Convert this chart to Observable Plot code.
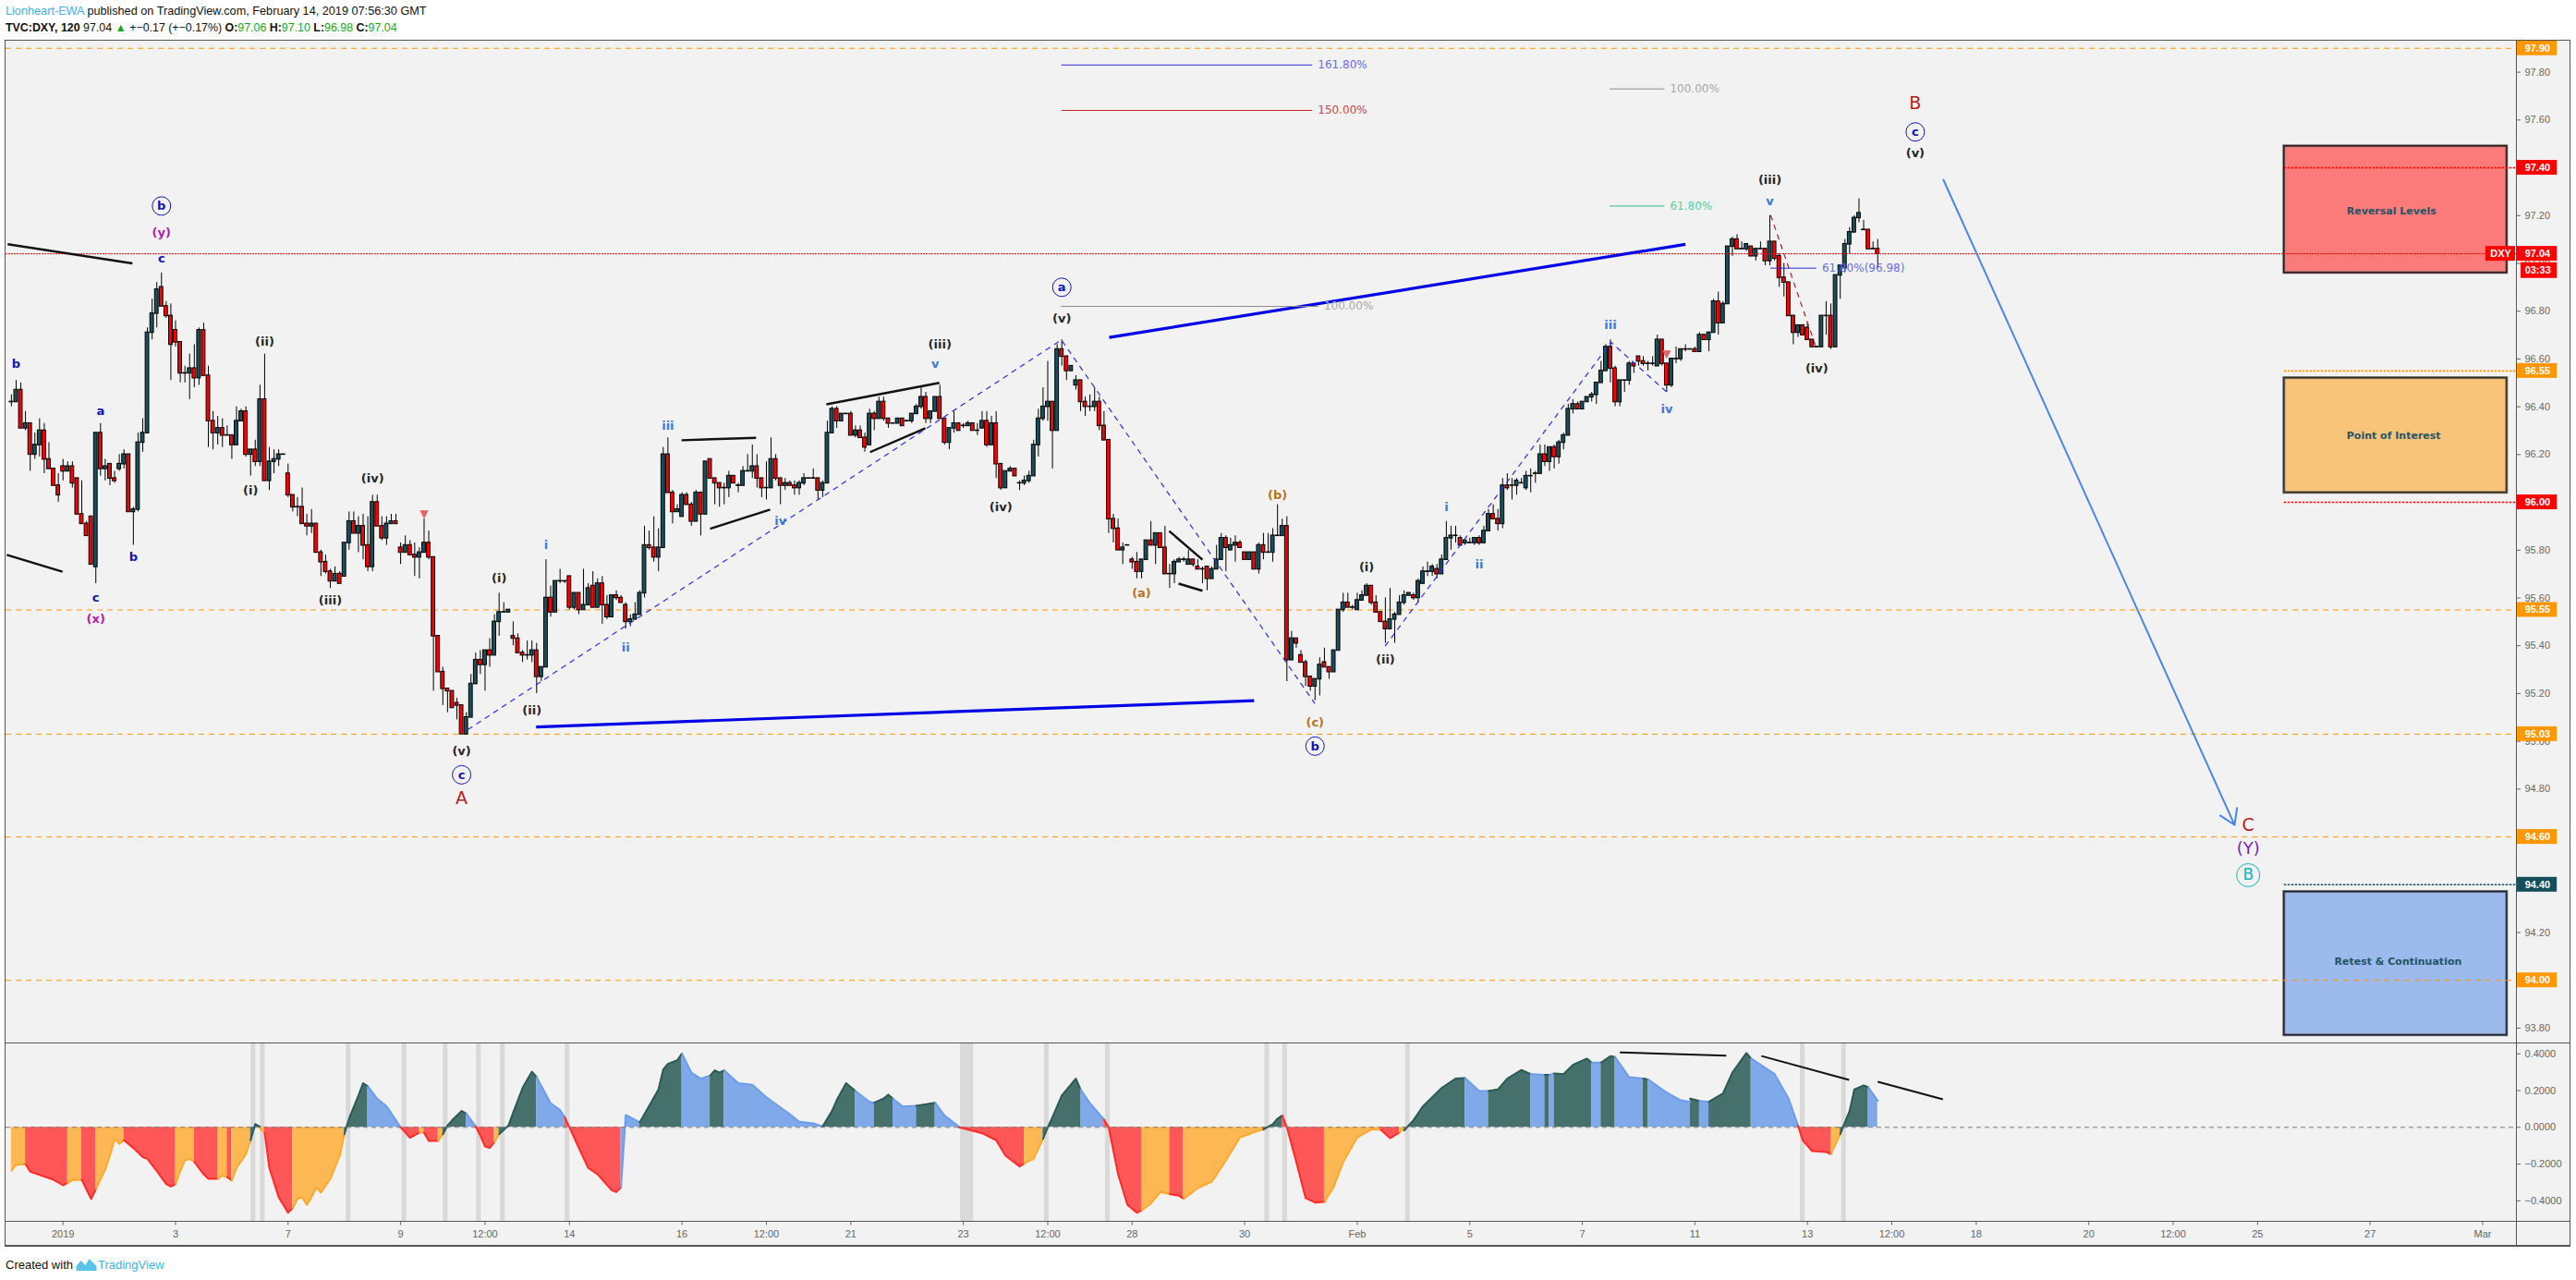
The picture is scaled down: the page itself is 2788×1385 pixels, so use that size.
<!DOCTYPE html>
<html><head><meta charset="utf-8">
<script src="https://cdn.jsdelivr.net/npm/d3@7"></script>
<script src="https://cdn.jsdelivr.net/npm/@observablehq/plot@0.6"></script>
<style>
html,body{margin:0;padding:0;background:#fff;overflow:hidden}
#page{position:relative;width:2788px;height:1385px;font-family:"Liberation Sans",sans-serif;color:#111}
.line{position:absolute;background:#555}
.t{position:absolute;left:6px;font-size:12.7px;white-space:nowrap;line-height:16px}
.lnk{color:#3bb3e4}.g{color:#18a818}
</style></head><body><div id="page"></div>
<script>
// ---------- Candles: first bar index is firstBar; 12 bars per trading day, bar 0 = the "2019" tick
const firstBar = -11;
const opens = [
96.42,96.42,96.47,96.31,96.33,96.20,96.24,96.30,96.18,96.14,
96.07,96.15,96.13,96.15,96.10,95.95,95.91,95.94,95.73,96.29,
96.14,96.16,96.10,96.14,96.16,96.20,95.96,95.97,96.25,96.29,
96.71,96.79,96.90,96.82,96.78,96.72,96.67,96.54,96.54,96.56,
96.52,96.72,96.53,96.34,96.29,96.31,96.28,96.28,96.24,96.34,
96.38,96.20,96.22,96.17,96.43,96.09,96.17,96.18,96.20,96.12,
96.03,95.98,95.98,95.91,95.90,95.91,95.79,95.75,95.71,95.67,
95.70,95.69,95.83,95.92,95.87,95.90,95.82,95.73,96.00,95.90,
95.85,95.91,95.92,95.81,95.79,95.82,95.78,95.77,95.79,95.83,
95.77,95.44,95.29,95.22,95.21,95.16,95.15,95.03,95.10,95.24,
95.34,95.32,95.38,95.36,95.50,95.54,95.54,95.44,95.43,95.37,
95.36,95.36,95.38,95.27,95.31,95.60,95.54,95.67,95.67,95.69,
95.56,95.62,95.55,95.57,95.65,95.56,95.66,95.57,95.52,95.61,
95.60,95.57,95.50,95.51,95.53,95.62,95.82,95.81,95.77,95.81,
96.20,96.04,95.96,95.94,96.03,95.99,95.92,96.04,95.95,96.18,
96.10,96.08,96.06,96.06,96.11,96.07,96.07,96.13,96.13,96.15,
96.10,96.06,96.06,96.18,96.10,96.07,96.08,96.07,96.06,96.08,
96.10,96.10,96.10,96.05,96.08,96.29,96.39,96.34,96.37,96.37,
96.28,96.30,96.27,96.24,96.37,96.35,96.42,96.35,96.33,96.33,
96.35,96.34,96.34,96.37,96.40,96.44,96.35,96.38,96.44,96.35,
96.25,96.31,96.33,96.32,96.32,96.33,96.30,96.31,96.34,96.24,
96.33,96.16,96.06,96.13,96.14,96.08,96.08,96.09,96.11,96.24,
96.35,96.40,96.42,96.30,96.64,96.61,96.55,96.49,96.51,96.42,
96.40,96.40,96.42,96.32,96.26,95.93,95.89,95.80,95.82,95.76,
95.75,95.71,95.76,95.84,95.82,95.87,95.81,95.70,95.70,95.75,
95.76,95.74,95.76,95.73,95.72,95.73,95.68,95.72,95.76,95.85,
95.80,95.82,95.83,95.79,95.76,95.79,95.72,95.82,95.79,95.79,
95.86,95.86,95.90,95.34,95.43,95.36,95.33,95.27,95.23,95.26,
95.33,95.31,95.29,95.38,95.55,95.58,95.56,95.55,95.59,95.61,
95.65,95.58,95.54,95.50,95.47,95.51,95.53,95.58,95.61,95.61,
95.60,95.66,95.71,95.71,95.72,95.70,95.76,95.85,95.86,95.85,
95.83,95.83,95.83,95.85,95.83,95.88,95.95,95.93,95.91,96.07,
96.07,96.07,96.08,96.06,96.11,96.12,96.12,96.20,96.17,96.23,
96.19,96.25,96.28,96.39,96.41,96.39,96.42,96.44,96.45,96.50,
96.55,96.65,96.56,96.42,96.51,96.51,96.58,96.61,96.59,96.58,
96.58,96.57,96.68,96.58,96.49,96.60,96.60,96.64,96.64,96.64,
96.63,96.70,96.68,96.71,96.84,96.75,96.83,97.07,97.10,97.06,
97.06,97.07,97.03,97.06,97.06,97.01,97.09,97.03,96.94,96.92,
96.78,96.71,96.74,96.73,96.68,96.65,96.65,96.78,96.78,96.65,
96.95,96.98,97.08,97.13,97.19,97.14,97.14,97.06,97.06];
const closes = [
96.42,96.47,96.31,96.33,96.20,96.24,96.30,96.18,96.14,96.07,
96.03,96.13,96.15,96.08,95.95,95.91,95.86,95.74,96.29,96.14,
96.15,96.10,96.09,96.16,96.20,95.96,95.97,96.25,96.29,96.71,
96.79,96.89,96.82,96.78,96.66,96.67,96.54,96.54,96.56,96.52,
96.72,96.53,96.34,96.29,96.31,96.28,96.28,96.24,96.34,96.38,
96.20,96.22,96.17,96.43,96.09,96.17,96.18,96.20,96.20,96.03,
95.98,95.98,95.91,95.90,95.91,95.79,95.75,95.71,95.67,95.70,
95.66,95.83,95.92,95.87,95.90,95.82,95.73,96.00,95.90,95.85,
95.91,95.92,95.91,95.79,95.82,95.78,95.77,95.79,95.83,95.77,
95.44,95.29,95.22,95.21,95.14,95.15,95.03,95.10,95.24,95.34,
95.32,95.38,95.36,95.50,95.54,95.54,95.55,95.43,95.37,95.36,
95.36,95.38,95.27,95.31,95.60,95.54,95.67,95.67,95.67,95.56,
95.62,95.55,95.57,95.64,95.56,95.66,95.57,95.52,95.61,95.60,
95.58,95.50,95.51,95.53,95.62,95.82,95.81,95.77,95.81,96.20,
96.04,95.96,95.97,96.03,95.99,95.92,96.04,95.95,96.17,96.10,
96.08,96.06,96.06,96.11,96.08,96.07,96.13,96.13,96.15,96.10,
96.06,96.06,96.18,96.10,96.07,96.08,96.07,96.06,96.08,96.10,
96.10,96.10,96.05,96.08,96.29,96.39,96.34,96.37,96.37,96.28,
96.30,96.27,96.23,96.37,96.35,96.42,96.35,96.33,96.33,96.35,
96.32,96.34,96.37,96.40,96.44,96.35,96.38,96.44,96.35,96.25,
96.31,96.33,96.30,96.32,96.33,96.30,96.30,96.34,96.24,96.33,
96.16,96.06,96.13,96.14,96.11,96.08,96.09,96.11,96.24,96.35,
96.40,96.42,96.30,96.64,96.61,96.55,96.57,96.51,96.42,96.40,
96.40,96.42,96.32,96.26,95.93,95.89,95.80,95.81,95.82,95.75,
95.71,95.76,95.84,95.82,95.87,95.81,95.70,95.70,95.75,95.76,
95.76,95.76,95.74,95.72,95.72,95.68,95.72,95.76,95.85,95.81,
95.82,95.83,95.81,95.76,95.79,95.72,95.82,95.79,95.79,95.86,
95.86,95.90,95.34,95.43,95.41,95.33,95.27,95.23,95.26,95.32,
95.31,95.29,95.38,95.55,95.58,95.56,95.56,95.59,95.61,95.65,
95.58,95.54,95.50,95.47,95.51,95.53,95.58,95.61,95.62,95.60,
95.67,95.71,95.71,95.73,95.70,95.76,95.85,95.86,95.86,95.82,
95.84,95.83,95.85,95.83,95.88,95.95,95.93,95.91,96.07,96.06,
96.07,96.09,96.08,96.11,96.11,96.12,96.20,96.17,96.23,96.19,
96.25,96.28,96.39,96.41,96.39,96.42,96.44,96.45,96.50,96.55,
96.65,96.56,96.42,96.51,96.51,96.58,96.57,96.59,96.58,96.58,
96.58,96.68,96.58,96.49,96.60,96.60,96.64,96.64,96.64,96.63,
96.70,96.68,96.71,96.84,96.75,96.83,97.07,97.10,97.06,97.06,
97.08,97.03,97.06,97.06,97.01,97.09,97.02,96.94,96.92,96.78,
96.71,96.74,96.70,96.68,96.65,96.65,96.78,96.78,96.65,96.95,
96.99,97.08,97.13,97.19,97.21,97.14,97.06,97.06,97.04];
const highs = [
96.45,96.51,96.50,96.38,96.33,96.29,96.35,96.33,96.25,96.14,
96.12,96.18,96.17,96.17,96.10,96.09,95.92,95.94,96.29,96.33,
96.18,96.16,96.13,96.20,96.22,96.20,95.98,96.29,96.35,96.73,
96.85,96.92,96.96,96.84,96.83,96.76,96.67,96.57,96.62,96.66,
96.73,96.75,96.57,96.38,96.36,96.35,96.32,96.28,96.40,96.39,
96.40,96.22,96.26,96.49,96.62,96.23,96.22,96.22,96.20,96.16,
96.03,96.02,96.06,95.95,95.97,95.91,95.80,95.78,95.72,95.73,
95.71,95.83,95.96,95.96,95.94,95.95,95.94,96.03,96.03,95.94,
95.94,95.95,95.95,95.83,95.86,95.84,95.83,95.81,95.93,95.88,
95.77,95.44,95.31,95.22,95.21,95.18,95.15,95.12,95.28,95.37,
95.38,95.38,95.43,95.53,95.62,95.58,95.55,95.50,95.45,95.38,
95.42,95.42,95.41,95.31,95.76,95.65,95.67,95.72,95.67,95.69,
95.62,95.62,95.72,95.66,95.71,95.68,95.69,95.61,95.61,95.63,
95.61,95.58,95.53,95.58,95.63,95.90,95.88,95.94,95.89,96.23,
96.27,96.05,95.99,96.04,96.04,96.00,96.05,96.04,96.17,96.18,
96.10,96.08,96.08,96.13,96.11,96.08,96.15,96.20,96.24,96.20,
96.10,96.17,96.27,96.20,96.10,96.10,96.09,96.09,96.09,96.12,
96.10,96.14,96.10,96.09,96.34,96.40,96.40,96.37,96.37,96.38,
96.32,96.32,96.29,96.39,96.38,96.44,96.44,96.35,96.33,96.35,
96.35,96.34,96.37,96.41,96.48,96.46,96.38,96.44,96.49,96.35,
96.31,96.38,96.33,96.33,96.34,96.33,96.33,96.38,96.38,96.36,
96.38,96.16,96.13,96.15,96.14,96.09,96.11,96.13,96.26,96.39,
96.48,96.59,96.42,96.66,96.68,96.61,96.57,96.53,96.51,96.44,
96.45,96.48,96.44,96.38,96.26,95.95,95.93,95.83,95.82,95.77,
95.79,95.76,95.84,95.92,95.87,95.87,95.90,95.74,95.76,95.77,
95.77,95.80,95.76,95.76,95.73,95.73,95.73,95.82,95.87,95.86,
95.85,95.86,95.84,95.79,95.79,95.79,95.83,95.87,95.87,95.89,
95.99,95.93,95.94,95.46,95.43,95.38,95.34,95.27,95.26,95.35,
95.39,95.31,95.38,95.55,95.62,95.62,95.57,95.62,95.63,95.66,
95.65,95.61,95.54,95.60,95.64,95.54,95.61,95.63,95.62,95.62,
95.68,95.73,95.75,95.74,95.74,95.78,95.92,95.90,95.90,95.86,
95.84,95.85,95.85,95.86,95.90,95.97,95.99,95.97,96.10,96.12,
96.10,96.10,96.10,96.13,96.14,96.13,96.24,96.24,96.23,96.24,
96.26,96.29,96.41,96.43,96.42,96.42,96.44,96.46,96.50,96.59,
96.66,96.68,96.57,96.51,96.51,96.59,96.58,96.61,96.61,96.59,
96.61,96.70,96.68,96.58,96.60,96.65,96.64,96.66,96.64,96.65,
96.71,96.70,96.71,96.85,96.88,96.84,97.07,97.11,97.12,97.09,
97.08,97.07,97.06,97.09,97.06,97.20,97.09,97.04,97.00,96.92,
96.78,96.74,96.74,96.75,96.68,96.65,96.78,96.84,96.83,96.95,
96.99,97.10,97.15,97.20,97.27,97.18,97.14,97.09,97.10];
const lows = [
96.40,96.42,96.31,96.30,96.13,96.18,96.19,96.12,96.14,96.07,
96.00,96.09,96.13,96.06,95.95,95.91,95.86,95.74,95.66,96.11,
96.09,96.07,96.08,96.13,96.14,95.96,95.82,95.96,96.21,96.29,
96.68,96.73,96.82,96.77,96.51,96.65,96.50,96.50,96.43,96.48,
96.49,96.53,96.23,96.22,96.24,96.23,96.28,96.18,96.24,96.34,
96.19,96.11,96.15,96.15,96.09,96.05,96.12,96.15,96.20,96.02,
95.96,95.94,95.91,95.86,95.87,95.79,95.69,95.70,95.64,95.67,
95.66,95.69,95.80,95.87,95.79,95.76,95.71,95.71,95.90,95.84,
95.82,95.91,95.91,95.74,95.79,95.78,95.69,95.68,95.79,95.76,
95.21,95.29,95.15,95.12,95.14,95.09,95.03,95.03,95.10,95.24,
95.28,95.21,95.31,95.36,95.44,95.54,95.54,95.40,95.37,95.33,
95.34,95.33,95.20,95.25,95.31,95.52,95.54,95.66,95.66,95.55,
95.55,95.53,95.55,95.57,95.56,95.56,95.49,95.51,95.52,95.59,
95.58,95.47,95.48,95.51,95.53,95.60,95.80,95.75,95.71,95.81,
96.04,95.91,95.96,95.94,95.99,95.90,95.92,95.86,95.95,96.10,
95.99,95.98,95.99,96.02,96.08,96.04,96.07,96.13,96.10,96.06,
96.02,96.01,96.06,96.09,95.99,96.05,96.07,96.03,96.03,96.07,
96.10,96.10,96.01,96.02,96.08,96.29,96.31,96.34,96.37,96.28,
96.27,96.27,96.21,96.24,96.30,96.35,96.34,96.31,96.33,96.33,
96.32,96.34,96.33,96.37,96.39,96.33,96.33,96.38,96.35,96.24,
96.22,96.29,96.30,96.31,96.32,96.30,96.28,96.31,96.23,96.24,
96.10,96.05,96.06,96.13,96.11,96.05,96.07,96.08,96.11,96.19,
96.34,96.34,96.14,96.30,96.57,96.51,96.55,96.47,96.38,96.36,
96.38,96.38,96.30,96.26,95.87,95.83,95.80,95.74,95.82,95.72,
95.68,95.68,95.76,95.82,95.74,95.81,95.70,95.64,95.66,95.75,
95.75,95.74,95.73,95.72,95.66,95.63,95.68,95.72,95.76,95.71,
95.80,95.75,95.81,95.76,95.76,95.72,95.70,95.76,95.79,95.75,
95.86,95.86,95.25,95.34,95.39,95.33,95.23,95.21,95.17,95.19,
95.31,95.26,95.29,95.38,95.54,95.56,95.55,95.55,95.59,95.61,
95.57,95.54,95.50,95.41,95.47,95.41,95.53,95.57,95.61,95.59,
95.58,95.66,95.69,95.69,95.68,95.70,95.76,95.80,95.83,95.82,
95.82,95.83,95.82,95.82,95.83,95.88,95.93,95.88,95.89,96.05,
96.01,96.03,96.08,96.05,96.04,96.08,96.12,96.15,96.13,96.14,
96.16,96.22,96.28,96.37,96.39,96.39,96.42,96.42,96.41,96.50,
96.55,96.50,96.40,96.40,96.46,96.49,96.54,96.57,96.57,96.55,
96.57,96.57,96.57,96.46,96.48,96.58,96.59,96.63,96.64,96.63,
96.63,96.68,96.63,96.71,96.70,96.75,96.83,97.03,97.06,97.06,
97.05,97.03,97.01,97.06,96.99,96.99,97.01,96.90,96.86,96.78,
96.66,96.69,96.70,96.68,96.65,96.65,96.65,96.70,96.64,96.65,
96.85,96.96,97.04,97.13,97.17,97.14,97.06,97.06,96.98];

// ---------- Time axis and price axis
const timeTickBars = [0,24,48,72,90,108,132,150,168,192,210,228,252,276,300,324,348,372,390,408,432,450,468,492,516];
const timeTickText = ["2019","3","7","9","12:00","14","16","12:00","21","23","12:00","28","30","Feb","5","7","11","13","12:00","18","20","12:00","25","27","Mar"];
const priceTicks = [97.8,97.6,97.4,97.2,97,96.8,96.6,96.4,96.2,96,95.8,95.6,95.4,95.2,95,94.8,94.6,94.4,94.2,94,93.8];
const macdTicks = [0.4,0.2,0,-0.2,-0.4];

// ---------- Horizontal levels
const fullLevels = [97.90,95.55,95.03,94.60,94.00];
const lastPrice = 97.04;
const shortLevelPrices = [97.40,96.55,96.00,94.40];
const shortLevelKinds = ["red","orange","red","teal"];
const tagPrices = [97.90,97.40,97.04,96.55,96.00,95.55,95.03,94.60,94.40,94.00];
const tagKinds = ["orange","red","red","orange","red","orange","orange","orange","teal","orange"];

// ---------- Zones
const zoneNames = ["Reversal Levels","Point of Interest","Retest & Continuation"];
const zoneTop = [97.49,96.52,94.37];
const zoneBottom = [96.96,96.04,93.77];
const zoneLeftBar = 473.7, zoneRightBar = 521.2;
const zoneLabelBar = [487,487,484.4];
const zoneLabelPrice = [97.22,96.28,94.08];
const zoneKinds = ["red","orange","blue"];

// ---------- Drawn lines [bar, price, bar, price]
const blackTrends = [[-11.8,97.08,14.8,97.00],[-12,95.78,-0.1,95.71],[131.9,96.26,147.8,96.27],[138,95.89,150.8,95.97],
  [162.8,96.41,186.9,96.50],[172.1,96.21,183.9,96.31],[235.9,95.88,243,95.76],[237.9,95.66,243,95.63]];
const blueTrends = [[100.9,95.06,254,95.17],[223.1,96.69,346,97.08]];
const zigzagA = {bars:[86.4,212.9,266.9],prices:[95.05,96.68,95.16]};
const zigzagB = {bars:[282,330.1,342.1],prices:[95.40,96.67,96.46]};
const zigzagC = {bars:[364.2,374],prices:[97.20,96.64]};
const forecastArrow = [401,97.35,463.1,94.65];

// ---------- Fibonacci ratio labels
const fibText = ["161.80%","150.00%","100.00%","61.80%","100.00%","61.80%(96.98)"];
const fibPrice = [97.83,97.64,97.73,97.24,96.82,96.98];
const fibBar1 = [213,213,329.9,329.9,212.9,364.2];
const fibBar2 = [266.5,266.5,341.6,341.6,267.8,374];
const fibKind = ["blue","red","gray","green","gray","blue"];

// ---------- Wave labels
const blackWaves = {text:["(ii)","(i)","(iv)","(iii)","(v)","(i)","(ii)","(iv)","(iii)","(v)","(i)","(ii)","(iii)","(v)","(iv)"],
  bar:[43,40,66,57,85,93,100,200,187,213,278,282,364,395,374],
  price:[96.67,96.05,96.10,95.59,94.96,95.68,95.13,95.98,96.66,96.77,95.73,95.34,97.35,97.46,96.56]};
const navyWaves = {text:["b","a","c","b","c"],bar:[-10,8,7,15,21],price:[96.58,96.38,95.60,95.77,97.02]};
const blueWaves = {text:["i","ii","iii","iv","v","i","ii","iii","iv","v"],
  bar:[103,120,129,153,186,295,302,330,342,364],price:[95.82,95.39,96.32,95.92,96.58,95.98,95.74,96.74,96.39,97.26]};
const magentaWaves = {text:["(x)","(y)"],bar:[7,21],price:[95.51,97.13]};
const amberWaves = {text:["(b)","(a)","(c)"],bar:[259,230,267],price:[96.03,95.62,95.08]};
const circledNavy = {text:["b","c","a","b","c"],bar:[21,85,213,267,395],price:[97.24,94.86,96.90,94.98,97.55]};
const majorRed = {text:["A","B","C"],bar:[85,395,466],price:[94.76,97.67,94.65]};
const majorY = {text:"(Y)",bar:466,price:94.55};
const majorCircled = {text:"B",bar:466,price:94.44};
const pivotMarks = {bar:[77,342],price:[95.95,96.62]};

// ---------- Indicator: segments of the oscillator line; kinds T rising above zero, B falling above, R falling below, O rising below
const macdKind = ["O","R","O","R","O","R","O","R","O","R","O","T","O","R","O","T","B","R","O","R","O","T","B","R","O","T","B","R","B","T","B","T","B","T",
  "B","T","B","T","B","R","O","T","B","R","O","R","O","T","R","O","R","O","T","B","T","B","T","B","T","B","T","B","T","B","T","B","T","B","R","O","T","B"];
const macdBars = [
[-11,-10,-8],[-8,-7,-4,-2,0,1],[1,2,4],[4,5,6,7],[7,9,10,11,12,13],[13,15,17,18,20,22,23,24],[24,25,26,27,28],[28,30,31,33],[33,34,35],[35,36],
[36,37,39,40],[40,41,42],[42,43],[43,44,46,48,49],[49,50,51,52,53,54,55,57,59,60],[60,61,63,64,65],[65,67,69,71,72],[72,74,76],[76,77],[77,78,80],
[80,81],[81,82,83,85,86],[86,88],[88,89,90,91,92],[92,93],[93,95,96,98,100,101],[101,104,106,107],[107,108,110,112,114,117,118,119],[119,120,123],
[123,124,127,128,129,131,132],[132,134,136,138],[138,139,140,141],[141,144,147,150,155,157,160,162],[162,164,165,167,169],
[169,172,173],[173,175,176,177],[177,179,182],[182,186],[186,188,191],[191,193,196,199,201,204,205],[205,207,209],[209,210,211,213,216,217],[217,219,222],
[222,223,225,227,229,230],[230,232,234,236],[236,238,239],[239,242,245,248,251,253,255,256],[256,258,259,260],[260,261,263,265,267,269],[269,271,273,276,279,281],
[281,283,285],[285,286],[286,288,290,294,297,299],[299,302,304],[304,306,308,311,313],[313,316],[316,317],[317,318],[318,320,322,325,326],[326,328],[328,330,331],
[331,334,337],[337,338],[338,342,345,347],[347,349],[349,351],[351,354,356,359,360],[360,365,368,370],[370,371,373,376,377],[377,379],[379,381,382,384,385],[385,387]];
const macdVals = [
[-.235,-.204,-.201],[-.201,-.241,-.268,-.285,-.315,-.302],[-.302,-.288,-.285],[-.285,-.338,-.389,-.335],[-.335,-.229,-.154,-.062,-.090,-.070],
[-.070,-.112,-.162,-.171,-.238,-.308,-.322,-.308],[-.308,-.238,-.179,-.171,-.188],[-.188,-.255,-.280,-.280],[-.280,-.263,-.271],[-.271,-.288],
[-.288,-.221,-.146,-.070],[-.070,.018,.003],[-.005,-.03],[-.028,-.221,-.380,-.464,-.439],[-.439,-.389,-.380,-.422,-.380,-.327,-.355,-.280,-.154,-.037],
[-.037,.047,.173,.240,.223],[.223,.156,.114,.039,0],[0,-.057,-.028],[-.028,-.028],[-.028,-.074,-.074],
[-.074,-.037],[-.037,.010,.039,.089,.075],[.075,.005],[.005,-.045,-.104,-.112,-.079],[-.079,-.037],[-.037,.010,.080,.214,.303,.273],[.273,.131,.094,.055],
[.055,0,-.112,-.221,-.255,-.342,-.352,-.325],[-.325,.067,.027],
[.027,.072,.206,.315,.345,.365,.402],[.402,.298,.265,.281],[.281,.310,.298,.310],[.310,.240,.231,.164,.072,.030,.022,.005],[.005,.089,.147,.240,.198],
[.198,.139,.134],[.134,.156,.178,.156],[.156,.114,.117],[.117,.134],[.134,.064,.005],[0,-.012,-.032,-.070,-.154,-.213,-.196],[-.196,-.171,-.062],[-.062,0,.055,.173,.265,.206],[.206,.131,.042],
[.042,0,-.255,-.422,-.464,-.452],[-.452,-.414,-.352,-.363],[-.363,-.372,-.389],[-.389,-.330,-.296,-.179,-.054,-.037,-.017,-.012],[-.012,.017,.047,.064],[.064,0,-.188,-.385,-.409,-.405],[-.405,-.322,-.188,-.054,-.012,-.012],
[-.012,-.059,-.028],[-.028,0],[-.017,.039,.114,.214,.265,.268],[.268,.198,.198],[.198,.206,.265,.312,.290],[.290,.285],[.285,.285],[.285,.293],[.293,.290,.340,.374,.352],[.352,.352],[.352,.387,.382],
[.382,.273,.265],[.265,.261],[.261,.189,.147,.139],[.156,.144],[.144,.139],[.139,.184,.298,.404,.374],[.374,.290,.156,.010],[.010,-.070,-.129,-.134,-.146],[-.146,-.037],[-.037,.089,.206,.228,.218],[.218,.144]];
const macdBands = [40.6,42.6,60.9,72.8,81.6,88.7,93.8,107.6,191.9,192.8,193.7,209.8,222.8,256.8,260.6,286.8,371,379.8];
const macdTrends = [[332,.408,354.7,.390],[362.2,.388,380.9,.258],[387,.248,400.9,.152]];

// ---------- Build
const FONT = "DejaVu Sans";
const barDomain = [-12.158, 523.2];
const page = document.getElementById("page");
const PANEL = "#f2f2f2";
const bars = opens.map((o,i)=>({bar:firstBar+i,o,c:closes[i],h:highs[i],l:lows[i]}));
const rows = t => t.text.map((s,i)=>({text:s,bar:t.bar[i],price:t.price[i]}));
const tc = {red:"#ff0000",orange:"#ff9800",teal:"#14505c",blue:"#3c78d8"};
const links = a => a.map(r=>({x1:r[0],y1:r[1],x2:r[2],y2:r[3]}));
const zig = z => z.bars.map((b,i)=>({bar:b,price:z.prices[i]}));
const fibRows = fibText.map((t,i)=>({t,price:fibPrice[i],a:fibBar1[i],b:fibBar2[i],k:fibKind[i]}));
const fibLine = {blue:"#2a2ad8",red:"#c62828",gray:"#8a8a8a",green:"#2fbf8f"};
const fibFill = {blue:"#6a6ae8",red:"#c94a4a",gray:"#a8a8a8",green:"#52cfa3"};
const waveText = (t,fill,extra={}) => Plot.text(rows(t),{x:"bar",y:"price",text:"text",fill,fontFamily:FONT,fontSize:13,fontWeight:"bold",...extra});
const circleRows = rows(circledNavy);
const shortLv = shortLevelPrices.map((p,i)=>({p,k:shortLevelKinds[i]}));
const tags = tagPrices.map((p,i)=>({p,k:tagKinds[i]}));
const zones = zoneNames.map((n,i)=>({n,t:zoneTop[i],b:zoneBottom[i],lb:zoneLabelBar[i],lp:zoneLabelPrice[i],k:zoneKinds[i]}));
const zoneFill = {red:"#fb7a7a",orange:"#f8c479",blue:"#9dbaec"};
const zoneInk = {red:"#3a0d0d",orange:"#3d2d12",blue:"#14213d"};

const pricePlot = Plot.plot({
  width:2775,height:1084,marginTop:0,marginBottom:0,marginLeft:0,marginRight:58,
  style:{background:PANEL,fontFamily:"Liberation Sans",fontSize:"11px",overflow:"visible"},
  x:{domain:barDomain,axis:null},
  y:{domain:[93.738,97.93],axis:null},
  marks:[
    Plot.axisY({anchor:"right",ticks:priceTicks,tickFormat:d=>d.toFixed(2),tickSize:4,tickPadding:5,label:null,color:"#666",fontSize:11}),
    Plot.rect(zones,{x1:zoneLeftBar,x2:zoneRightBar,y1:"b",y2:"t",fill:d=>zoneFill[d.k],stroke:"#777",strokeWidth:3}),
    Plot.rect(zones,{x1:zoneLeftBar,x2:zoneRightBar,y1:"b",y2:"t",stroke:d=>zoneInk[d.k],strokeWidth:1.4}),
    Plot.text(zones,{x:"lb",y:"lp",text:"n",textAnchor:"start",fill:"#1f5566",fontFamily:FONT,fontWeight:"bold",fontSize:11}),
    Plot.ruleY(fullLevels,{stroke:"#ff9800",strokeWidth:1,strokeDasharray:"6 5"}),
    Plot.ruleY(shortLv,{y:"p",x1:zoneLeftBar,x2:barDomain[1],stroke:d=>tc[d.k],strokeWidth:1.6,strokeDasharray:"2.5 1.5"}),
    Plot.ruleX(bars,{x:"bar",y1:"l",y2:"h",stroke:"#000",strokeWidth:1}),
    Plot.rect(bars,{x1:d=>d.bar-0.38,x2:d=>d.bar+0.38,y1:"o",y2:"c",insetTop:-0.3,insetBottom:-0.3,
      fill:d=>d.c>=d.o?"#1a4f5c":"#ff0000",stroke:"#000",strokeWidth:1}),
    Plot.ruleY([lastPrice],{stroke:"#ff0000",strokeWidth:1,strokeDasharray:"2 1"}),
    Plot.link(links(blueTrends),{x1:"x1",y1:"y1",x2:"x2",y2:"y2",stroke:"#0000e6",strokeWidth:3.2}),
    Plot.link(links(blackTrends),{x1:"x1",y1:"y1",x2:"x2",y2:"y2",stroke:"#111",strokeWidth:2.4}),
    Plot.line(zig(zigzagA),{x:"bar",y:"price",stroke:"#2a2af5",strokeWidth:1.2,strokeDasharray:"5 6"}),
    Plot.line(zig(zigzagB),{x:"bar",y:"price",stroke:"#2a2af5",strokeWidth:1.2,strokeDasharray:"5 6"}),
    Plot.line(zig(zigzagC),{x:"bar",y:"price",stroke:"#a32035",strokeWidth:1.2,strokeDasharray:"5 6"}),
    Plot.arrow([forecastArrow],{x1:d=>d[0],y1:d=>d[1],x2:d=>d[2],y2:d=>d[3],stroke:"#4a86e8",strokeWidth:2,headLength:14,headAngle:65,inset:0}),
    Plot.ruleY(fibRows,{y:"price",x1:"a",x2:"b",stroke:d=>fibLine[d.k],strokeWidth:1}),
    Plot.text(fibRows,{x:d=>d.b+1.1,y:"price",text:"t",textAnchor:"start",fill:d=>fibFill[d.k],fontFamily:FONT,fontSize:12}),
    waveText(blackWaves,"#262626"),
    waveText(navyWaves,"#1414b4"),
    waveText(blueWaves,"#3c78d8"),
    waveText(magentaWaves,"#b31ab3"),
    waveText(amberWaves,"#b8741a"),
    Plot.text(pivotMarks.bar.map((b,i)=>({b,p:pivotMarks.price[i]})),{x:"b",y:"p",text:()=>"▼",fill:"#e06666",fontSize:12,fontFamily:FONT}),
    Plot.dot(circleRows,{x:"bar",y:"price",r:10,stroke:"#1414b4",strokeWidth:1}),
    Plot.text(circleRows,{x:"bar",y:"price",text:"text",fill:"#1414b4",fontFamily:FONT,fontSize:13,fontWeight:"bold"}),
    Plot.text(rows(majorRed),{x:"bar",y:"price",text:"text",fill:"#b71c1c",fontFamily:FONT,fontSize:19}),
    Plot.text([majorY],{x:"bar",y:"price",text:"text",fill:"#7b1fb5",fontFamily:FONT,fontSize:18}),
    Plot.dot([majorCircled],{x:"bar",y:"price",r:12.5,stroke:"#17b3b3",strokeWidth:1}),
    Plot.text([majorCircled],{x:"bar",y:"price",text:"text",fill:"#17b3b3",fontFamily:FONT,fontSize:17}),
    Plot.rect(tags,{x1:barDomain[1],x2:barDomain[1]+8.7,y1:"p",y2:"p",insetTop:-8,insetBottom:-8,fill:d=>tc[d.k]}),
    Plot.text(tags,{x:525,y:"p",text:d=>d.p.toFixed(2),textAnchor:"start",fill:"#fff",fontWeight:"bold",fontFamily:"Liberation Sans",fontSize:11}),
    Plot.rect([lastPrice],{x1:516.7,x2:523,y1:d=>d,y2:d=>d,insetTop:-8,insetBottom:-8,fill:"#ff0000"}),
    Plot.text([lastPrice],{x:519.85,y:d=>d,text:()=>"DXY",fill:"#fff",fontWeight:"bold",fontFamily:"Liberation Sans",fontSize:11}),
    Plot.rect([96.97],{x1:524.2,x2:531.9,y1:d=>d,y2:d=>d,insetTop:-8.5,insetBottom:-8.5,fill:"#ff0000"}),
    Plot.text([96.97],{x:525,y:d=>d,text:()=>"03:33",textAnchor:"start",fill:"#fff",fontWeight:"bold",fontFamily:"Liberation Sans",fontSize:11})
  ]
});

const macdRows = macdKind.flatMap((k,s)=>macdBars[s].map((b,i)=>({s,k,bar:b,v:macdVals[s][i]})));
const macdFill = {T:"#46706c",B:"#80a9e9",R:"#ff5757",O:"#fdb753"};
const macdStroke = {T:"#2b5a57",B:"#6d9cec",R:"#ff2a2a",O:"#ffa726"};

const macdPlot = Plot.plot({
  width:2775,height:219,marginTop:0,marginBottom:26.5,marginLeft:0,marginRight:58,
  style:{background:PANEL,fontFamily:"Liberation Sans",fontSize:"11px",overflow:"visible"},
  x:{domain:barDomain,axis:null},
  y:{domain:[-0.5136,0.454],axis:null},
  marks:[
    Plot.rect(macdBands,{x1:d=>d-0.5,x2:d=>d+0.5,fill:"#d9d9d9"}),
    Plot.areaY(macdRows,{x:"bar",y1:0,y2:"v",z:"s",fill:d=>macdFill[d.k],curve:"linear"}),
    Plot.line(macdRows,{x:"bar",y:"v",z:"s",stroke:d=>macdStroke[d.k],strokeWidth:2,curve:"linear"}),
    Plot.ruleY([0],{stroke:"#777",strokeWidth:1,strokeDasharray:"5 4"}),
    Plot.link(links(macdTrends),{x1:"x1",y1:"y1",x2:"x2",y2:"y2",stroke:"#111",strokeWidth:2}),
    Plot.axisY({anchor:"right",ticks:macdTicks,tickFormat:d=>(d<0?"−":"")+Math.abs(d).toFixed(4),tickSize:4,tickPadding:5,label:null,color:"#666",fontSize:11}),
    Plot.axisX({anchor:"bottom",ticks:timeTickBars,tickFormat:d=>timeTickText[timeTickBars.indexOf(d)],tickSize:4,tickPadding:5,label:null,color:"#666",fontSize:11})
  ]
});

// ---------- Page assembly: header, panes, frame, footer
function put(el,l,t){el.style.position="absolute";el.style.left=l+"px";el.style.top=t+"px";page.appendChild(el);}
put(pricePlot,6,44);
put(macdPlot,6,1129);
function rule(l,t,w,h){const d=document.createElement("div");d.className="line";d.style.cssText+=`left:${l}px;top:${t}px;width:${w}px;height:${h}px`;page.appendChild(d);}
rule(5,43,2777,1);rule(5,1347,2777,1.5);rule(5,43,1.3,1305);rule(2781,43,1.3,1305);
rule(5,1127.5,2777,1.3);rule(5,1321,2777,1);rule(2722.5,43,1.2,1305);

const h1=document.createElement("div");h1.className="t";h1.style.top="4px";
h1.innerHTML='<span class="lnk">Lionheart-EWA</span> published on TradingView.com, February 14, 2019 07:56:30 GMT';page.appendChild(h1);
const h2=document.createElement("div");h2.className="t";h2.style.cssText+="top:22px;font-size:12.4px";
h2.innerHTML='<b>TVC:DXY, 120</b> 97.04 <span class="g">▲</span> +−0.17 (+−0.17%) <b>O:</b><span class="g">97.06</span> <b>H:</b><span class="g">97.10</span> <b>L:</b><span class="g">96.98</span> <b>C:</b><span class="g">97.04</span>';page.appendChild(h2);
const f=document.createElement("div");f.className="t";f.style.cssText+="top:1360px;font-size:13px;line-height:17px";
f.innerHTML='Created with<svg width="23" height="14" viewBox="0 0 22 14" style="vertical-align:-2px;margin:0 1px 0 3px"><path d="M0 14V9L5 3l5 5 4-7 8 8v5z" fill="#58c4ea"/></svg><span class="lnk">TradingView</span>';page.appendChild(f);
</script></body></html>
